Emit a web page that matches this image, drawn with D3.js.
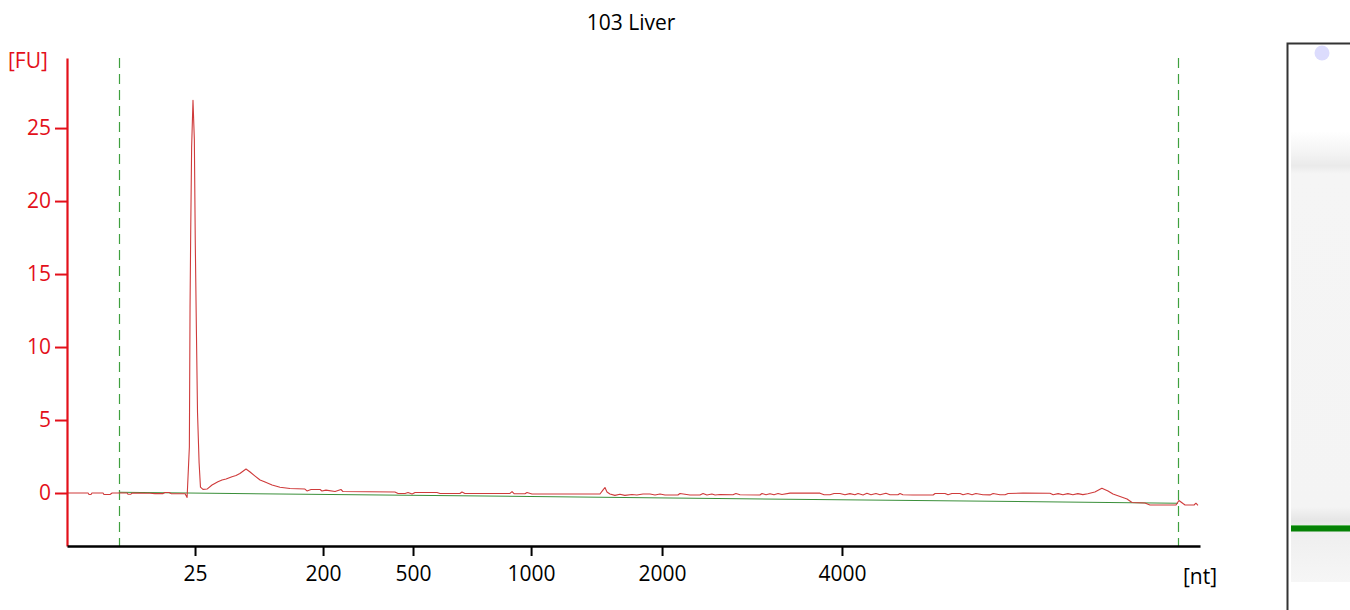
<!DOCTYPE html>
<html>
<head>
<meta charset="utf-8">
<script src="https://cdn.jsdelivr.net/npm/d3@7"></script>
<style>
  html, body { margin: 0; padding: 0; background: #fff; }
  svg { display: block; }
  text { font-family: "Open Sans", "Noto Sans", "DejaVu Sans", sans-serif; }
</style>
</head>
<body>
<svg id="chart" width="1350" height="610"></svg>
<script>
// ---------------- data ----------------
const chartTitle = "103 Liver";
// migration time (s) of each size-ladder tick, and its label in nt
const xTickTimes  = [24.65, 30.30, 34.27, 39.48, 45.26, 53.20];
const xTickLabels = ["25", "200", "500", "1000", "2000", "4000"];
const yTickValues = [0, 5, 10, 15, 20, 25];
// marker window (dashed lines), in s
const markerTimes = [21.29, 68.03];
// electropherogram trace: time (s) and fluorescence (FU)
const traceTime = [
  19.00, 19.35, 19.93, 19.97, 20.06, 20.10, 20.59, 20.63, 20.90, 20.99,
  21.65, 21.69, 21.82, 21.87, 22.66, 22.88, 23.24, 23.32, 23.50, 23.59,
  24.21, 24.30, 24.40, 24.43, 24.46, 24.50, 24.56, 24.62, 24.66, 24.71,
  24.76, 24.83, 24.89, 25.00, 25.18, 25.40, 25.66, 25.84, 26.02, 26.28,
  26.46, 26.63, 26.90, 27.08, 27.30, 27.52, 27.74, 28.05, 28.40, 28.84,
  29.50, 29.59, 29.77, 30.17, 30.25, 30.43, 30.83, 31.09, 31.18, 33.47,
  33.61, 33.92, 34.05, 34.23, 34.36, 35.33, 35.46, 36.34, 36.43, 36.56,
  38.55, 38.64, 38.73, 39.21, 39.30, 39.52, 42.52, 42.65, 42.74, 42.83,
  42.96, 43.18, 43.40, 43.62, 43.93, 44.15, 44.42, 44.73, 44.95, 45.17,
  45.39, 45.96, 46.05, 46.49, 46.93, 47.07, 47.24, 47.46, 47.60, 47.82,
  48.39, 48.52, 48.70, 49.58, 49.67, 49.85, 50.02, 50.20, 50.38, 50.55,
  50.91, 52.23, 52.41, 52.67, 52.85, 53.11, 53.33, 53.55, 53.77, 53.91,
  54.13, 54.30, 54.48, 54.70, 54.88, 55.14, 55.32, 55.67, 55.76, 55.89,
  56.33, 57.22, 57.31, 57.75, 57.88, 58.05, 58.41, 58.54, 58.76, 58.94,
  59.11, 59.42, 59.73, 59.87, 60.17, 60.40, 60.53, 61.19, 62.38, 62.52,
  62.74, 62.95, 63.17, 63.39, 63.61, 63.83, 64.05, 64.36, 64.67, 64.94,
  65.16, 65.47, 65.78, 66.00, 66.57, 66.79, 67.94, 68.07, 68.25, 68.34,
  68.74, 68.82, 68.91
];
const traceFU = [
  0.00, 0.00, 0.00, -0.10, -0.10, 0.00, 0.00, -0.10, -0.10, 0.00,
  0.00, -0.08, -0.08, 0.00, -0.02, -0.04, -0.04, 0.03, 0.03, -0.04,
  -0.05, -0.30, 3.15, 12.7, 18.0, 23.7, 26.9, 24.2, 17.3, 11.2,
  5.5, 2.05, 0.40, 0.25, 0.27, 0.55, 0.77, 0.89, 0.96, 1.12,
  1.20, 1.34, 1.64, 1.44, 1.16, 0.89, 0.75, 0.55, 0.39, 0.31,
  0.27, 0.14, 0.24, 0.24, 0.14, 0.20, 0.10, 0.24, 0.10, 0.07,
  -0.03, -0.03, 0.03, -0.07, 0.03, 0.03, -0.03, -0.03, 0.07, -0.03,
  -0.03, 0.10, -0.05, -0.05, 0.03, -0.07, -0.07, 0.20, 0.38, 0.07,
  -0.07, -0.16, -0.09, -0.16, -0.10, -0.14, -0.07, -0.07, -0.14, -0.07,
  -0.14, -0.14, -0.03, -0.14, -0.14, -0.03, -0.14, -0.07, -0.14, -0.10,
  -0.12, -0.03, -0.12, -0.14, -0.03, -0.12, -0.05, -0.12, -0.03, -0.10,
  -0.01, -0.01, -0.12, -0.12, -0.03, -0.03, -0.12, -0.04, -0.12, -0.03,
  -0.13, -0.02, -0.12, -0.03, -0.12, -0.02, -0.12, -0.12, -0.03, -0.12,
  -0.14, -0.14, -0.03, -0.03, -0.12, -0.03, -0.03, -0.12, -0.03, -0.12,
  -0.03, -0.12, -0.13, -0.03, -0.12, -0.12, -0.03, -0.01, -0.02, -0.12,
  -0.04, -0.12, -0.04, -0.12, -0.04, -0.11, -0.05, 0.07, 0.32, 0.14,
  -0.07, -0.24, -0.41, -0.65, -0.68, -0.82, -0.82, -0.51, -0.72, -0.82,
  -0.82, -0.70, -0.85
];
// fitted baseline (start/end)
const baseTime = [21.29, 68.03];
const baseFU   = [0.05, -0.70];

// ---------------- layout ----------------
const svg = d3.select("#chart");
const M = { left: 67, right: 1200, top: 58, bottom: 546 };

const x = d3.scaleLinear().domain([19, 69]).range([M.left, M.right]);
const y = d3.scaleLinear().domain([-3.63, 29.8]).range([M.bottom, M.top]);

const RED = "#e3101a";
const FS = 21;

// title
svg.append("text")
  .attr("x", 631).attr("y", 30)
  .attr("text-anchor", "middle")
  .attr("font-size", FS)
  .attr("fill", "#000")
  .text(chartTitle);

// marker dashed lines
svg.append("g").selectAll("line")
  .data(markerTimes).join("line")
  .attr("x1", d => Math.round(x(d)) + 0.5).attr("x2", d => Math.round(x(d)) + 0.5)
  .attr("y1", M.top).attr("y2", M.bottom)
  .attr("stroke", "#3fa03f").attr("stroke-width", 1.2)
  .attr("stroke-dasharray", "10,6");

// baseline
svg.append("path")
  .datum(baseTime.map((t, i) => [t, baseFU[i]]))
  .attr("fill", "none")
  .attr("stroke", "#3a8f3a").attr("stroke-width", 1.1)
  .attr("d", d3.line().x(d => x(d[0])).y(d => y(d[1])));

// trace
svg.append("path")
  .datum(traceTime.map((t, i) => [t, traceFU[i]]))
  .attr("fill", "none")
  .attr("stroke", "#cf3b3b").attr("stroke-width", 1.1)
  .attr("stroke-linejoin", "round")
  .attr("d", d3.line().x(d => x(d[0])).y(d => y(d[1])));

// y axis
const yAxis = svg.append("g")
  .attr("transform", `translate(${M.left},0)`)
  .call(d3.axisLeft(y).tickValues(yTickValues).tickSize(12).tickSizeOuter(0).tickPadding(4));
yAxis.attr("font-family", null).attr("font-size", null);
yAxis.select(".domain").attr("stroke", RED).attr("stroke-width", 2.2);
yAxis.selectAll(".tick line").attr("stroke", RED).attr("stroke-width", 2);
yAxis.selectAll(".tick text")
  .attr("fill", RED).attr("font-size", FS);

svg.append("text")
  .attr("x", 8).attr("y", 68)
  .attr("font-size", FS).attr("fill", RED)
  .text("[FU]");

// x axis
const xAxis = svg.append("g")
  .attr("transform", `translate(0,${M.bottom})`)
  .call(d3.axisBottom(x).tickValues(xTickTimes)
    .tickFormat((d, i) => xTickLabels[i])
    .tickSize(10).tickSizeOuter(0).tickPadding(10));
xAxis.attr("font-family", null).attr("font-size", null);
xAxis.select(".domain").attr("stroke", "#000").attr("stroke-width", 2.5);
xAxis.selectAll(".tick line").attr("stroke", "#000").attr("stroke-width", 2);
xAxis.selectAll(".tick text")
  .attr("fill", "#000").attr("font-size", FS);

svg.append("text")
  .attr("x", 1200).attr("y", 584)
  .attr("text-anchor", "middle")
  .attr("font-size", FS).attr("fill", "#000")
  .text("[nt]");

// ---------------- gel lane ----------------
const defs = svg.append("defs");
const gelStops = [
  [0.00, "#ffffff"], [0.16, "#ffffff"], [0.20, "#f4f4f4"],
  [0.225, "#eaeaea"], [0.24, "#f5f5f5"], [0.86, "#f4f4f4"],
  [0.885, "#e6e6e6"], [0.90, "#eeeeee"], [1.00, "#f6f6f6"]
];
const grad = defs.append("linearGradient")
  .attr("id", "gel").attr("x1", 0).attr("x2", 0).attr("y1", 0).attr("y2", 1);
grad.selectAll("stop").data(gelStops).join("stop")
  .attr("offset", d => d[0]).attr("stop-color", d => d[1]);

svg.append("rect")
  .attr("x", 1291).attr("y", 45).attr("width", 60).attr("height", 537)
  .attr("fill", "url(#gel)");
svg.append("rect")
  .attr("x", 1291).attr("y", 525).attr("width", 60).attr("height", 1.5)
  .attr("fill", "#5cb85c");
svg.append("rect")
  .attr("x", 1291).attr("y", 526).attr("width", 60).attr("height", 5.5)
  .attr("fill", "#058205");
svg.append("circle")
  .attr("cx", 1322).attr("cy", 53).attr("r", 7.5)
  .attr("fill", "#dcdcfd");
svg.append("path")
  .attr("d", "M1287.5,610 V43.5 H1350")
  .attr("fill", "none").attr("stroke", "#333").attr("stroke-width", 2);
</script>
</body>
</html>
